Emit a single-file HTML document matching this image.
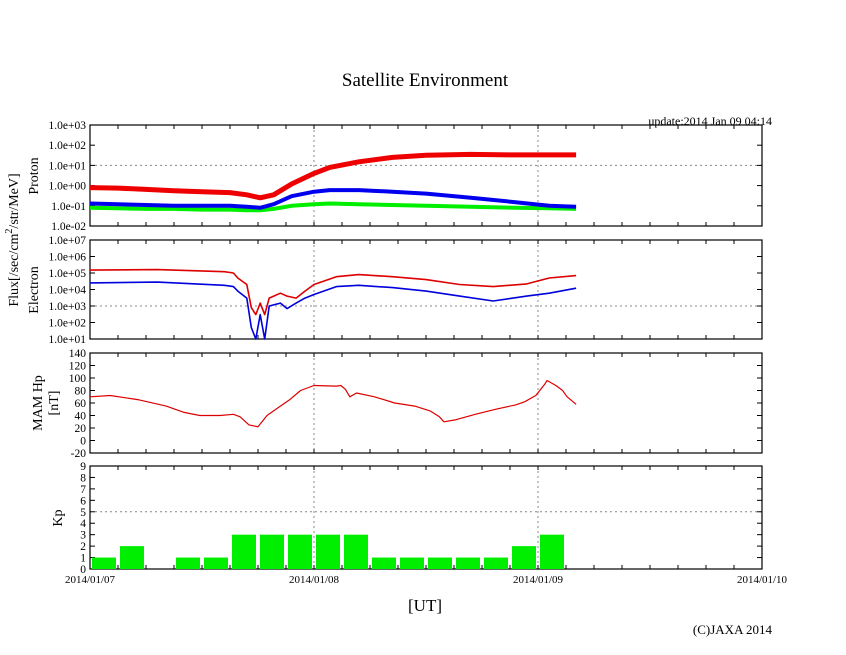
<!DOCTYPE html>
<html><head><meta charset="utf-8"><style>
body{margin:0;background:#fff}
svg{display:block;font-family:"Liberation Serif",serif}
</style></head><body>
<svg id="c" width="846" height="655" viewBox="0 0 846 655">
<text x="425" y="86" font-size="19" text-anchor="middle">Satellite Environment</text>
<text x="772" y="125" font-size="12" text-anchor="end">update:2014 Jan 09 04:14</text>
<text x="425" y="611" font-size="17" text-anchor="middle">[UT]</text>
<text x="772" y="634" font-size="13" text-anchor="end">(C)JAXA 2014</text>
<g id="g"></g>
</svg>
<script>
// ---- data ----
const xLabels=["2014/01/07","2014/01/08","2014/01/09","2014/01/10"];
const protonT=[0,0.125,0.25,0.375,0.5,0.625,0.7,0.76,0.82,0.9,1.0,1.07,1.2,1.35,1.5,1.7,1.9,2.05,2.17];
const protonRed=[0.8,0.75,0.65,0.55,0.5,0.45,0.35,0.25,0.35,1.2,4,8,15,25,32,35,33,33,33];
const protonBlue=[0.13,0.12,0.11,0.1,0.1,0.1,0.09,0.08,0.12,0.3,0.5,0.6,0.6,0.5,0.4,0.25,0.15,0.1,0.09];
const protonGreen=[0.08,0.075,0.07,0.07,0.065,0.065,0.06,0.06,0.07,0.1,0.12,0.13,0.12,0.11,0.1,0.09,0.08,0.075,0.07];
const elecT=[0,0.3,0.6,0.64,0.66,0.7,0.72,0.74,0.76,0.78,0.8,0.85,0.88,0.92,0.96,1.0,1.1,1.2,1.35,1.5,1.65,1.8,1.95,2.05,2.17];
const elecRed=[1.5e5,1.6e5,1.2e5,1e5,5e4,2e4,800,300,1500,300,3000,6000,4000,3000,8000,2e4,6e4,8e4,6e4,4e4,2e4,1.5e4,2.2e4,5e4,7e4];
const elecBlue=[2.5e4,2.8e4,1.8e4,1.5e4,8000,3000,50,10,300,10,1000,1500,700,1500,3000,5000,1.5e4,1.8e4,1.3e4,8000,4000,2000,4000,6000,1.2e4];
const hpT=[0,0.09,0.22,0.34,0.42,0.49,0.58,0.64,0.67,0.71,0.75,0.79,0.85,0.89,0.94,1.0,1.1,1.12,1.14,1.16,1.19,1.27,1.36,1.45,1.52,1.56,1.58,1.63,1.72,1.81,1.9,1.94,1.99,2.03,2.04,2.08,2.11,2.13,2.17];
const hpV=[70,72,65,55,45,40,40,42,38,25,22,40,55,65,80,88,87,88,82,70,76,70,60,55,47,38,30,33,42,50,57,62,72,90,96,88,80,70,58];
const kpV=[1,2,0,1,1,3,3,3,3,3,1,1,1,1,1,2,3];
const protonTicks=["1.0e-02","1.0e-01","1.0e+00","1.0e+01","1.0e+02","1.0e+03"];
const elecTicks=["1.0e+01","1.0e+02","1.0e+03","1.0e+04","1.0e+05","1.0e+06","1.0e+07"];
const hpTicks=[-20,0,20,40,60,80,100,120,140];
const kpTicks=[0,1,2,3,4,5,6,7,8,9];
// ---- layout ----
const X0=90,X1=762;
const xs=d=>X0+d*(X1-X0)/3;
const NS="http://www.w3.org/2000/svg";
const g=document.getElementById('g');
function mk(tag,at,parent){const e=document.createElementNS(NS,tag);for(const k in at)e.setAttribute(k,at[k]);(parent||g).appendChild(e);return e;}
function panel(top,bot,name){
  const r=mk('rect',{x:X0,y:top,width:X1-X0,height:bot-top,fill:'none',stroke:'#000','stroke-width':1.2});
  
  
  for(let d=1;d<3;d++){const l=mk('line',{x1:xs(d),x2:xs(d),y1:top,y2:bot,stroke:'#888','stroke-dasharray':'2,3'});
    
    }
  for(let i=1;i<24;i++){const x=xs(i/8);
    mk('line',{x1:x,x2:x,y1:top,y2:top+4,stroke:'#000'});mk('line',{x1:x,x2:x,y1:bot,y2:bot-4,stroke:'#000'});}
}
function yticks(labels,ys,name){
  labels.forEach((t,i)=>{const y=ys(i);
    mk('line',{x1:X0,x2:X0+5,y1:y,y2:y,stroke:'#000'});mk('line',{x1:X1,x2:X1-5,y1:y,y2:y,stroke:'#000'});
    const tx=mk('text',{x:X0-4,y:y+4,'font-size':11.5,'text-anchor':'end'});tx.textContent=t;
    
    });
}
function hgrid(y,name){const l=mk('line',{x1:X0,x2:X1,y1:y,y2:y,stroke:'#888','stroke-dasharray':'2,3'});
  
  }
function series(T,V,ys,col,w,name){
  const d=T.map((t,i)=>(i?'L':'M')+xs(t).toFixed(1)+' '+ys(V[i]).toFixed(1)).join(' ');
  const p=mk('path',{d:d,fill:'none',stroke:col,'stroke-width':w,'stroke-linejoin':'round'});
  
  
}
// proton panel
const P0=125,P1=226;
const pY=v=>P1-(Math.log10(v)+2)*(P1-P0)/5;
panel(P0,P1,'proton');hgrid(pY(10),'proton');
yticks(protonTicks,i=>P1-i*(P1-P0)/5,'proton');
series(protonT,protonGreen,pY,'#00ee00',4,'proton-green-series');
series(protonT,protonBlue,pY,'#0000ee',4,'proton-blue-series');
series(protonT,protonRed,pY,'#ee0000',5,'proton-red-series');
// electron panel
const E0=240,E1=339;
const eY=v=>E1-(Math.log10(v)-1)*(E1-E0)/6;
panel(E0,E1,'electron');hgrid(eY(1000),'electron');
yticks(elecTicks,i=>E1-i*(E1-E0)/6,'electron');
series(elecT,elecBlue,eY,'#0000dd',1.6,'electron-blue-series');
series(elecT,elecRed,eY,'#dd0000',1.6,'electron-red-series');
// hp panel
const H0=353,H1=453;
const hY=v=>H1-(v+20)*(H1-H0)/160;
panel(H0,H1,'hp');
yticks(hpTicks,i=>hY(hpTicks[i]),'hp');
series(hpT,hpV,hY,'#dd0000',1.2,'hp-series');
// kp panel
const K0=466,K1=569;
const kY=v=>K1-v*(K1-K0)/9;
panel(K0,K1,'kp');hgrid(kY(5),'kp');
yticks(kpTicks,i=>kY(kpTicks[i]),'kp');
kpV.forEach((v,i)=>{if(!v)return;const x=xs(i/8);
  const b=mk('rect',{x:x+2,y:kY(v),width:xs(1/8)-X0-4,height:K1-kY(v),fill:'#00ee00'});
  
  });
xLabels.forEach((t,i)=>{const tx=mk('text',{x:xs(i),y:583,'font-size':11,'text-anchor':'middle'});tx.textContent=t;
  
  });
// axis titles
function ytitle(x,y,lines,name){const t=mk('text',{x:0,y:0,'font-size':14,'text-anchor':'middle',transform:`translate(${x},${y}) rotate(-90)`});
  
  
  lines.forEach((s,i)=>{const ts=mk('tspan',{x:0,dy:i?16:0},t);ts.textContent=s;});}
ytitle(38,176,['Proton'],'proton-axis-title');
ytitle(38,290,['Electron'],'electron-axis-title');
const ft=mk('text',{x:0,y:0,'font-size':14,'text-anchor':'middle',transform:'translate(18,240) rotate(-90)'});


ft.innerHTML='Flux[/sec/cm<tspan dy="-6" font-size="10">2</tspan><tspan dy="6">/str/MeV]</tspan>';
ytitle(42,403,['MAM Hp','[nT]'],'hp-axis-title');
ytitle(62,518,['Kp'],'kp-axis-title');
</script>
</body></html>
